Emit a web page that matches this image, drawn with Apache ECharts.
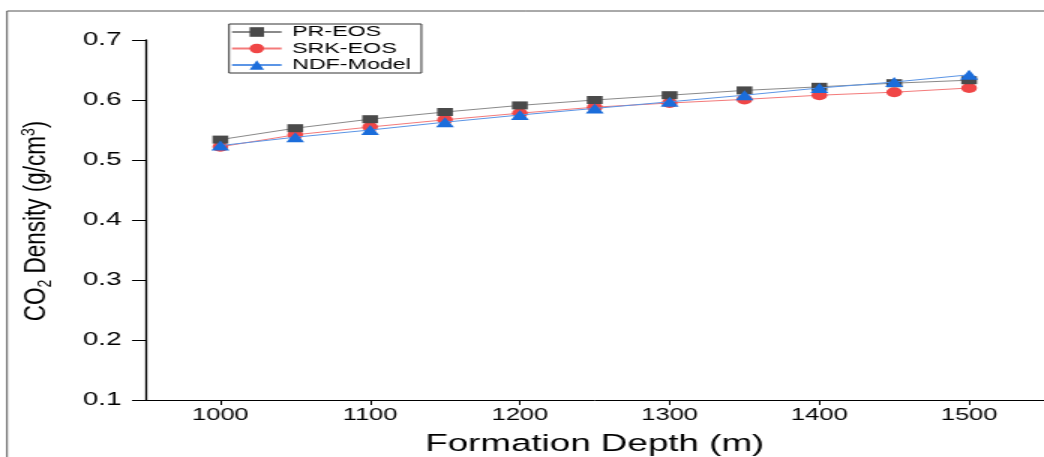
<!DOCTYPE html>
<html>
<head>
<meta charset="utf-8">
<script src="https://cdn.jsdelivr.net/npm/echarts@6/dist/echarts.min.js"></script>
<style>
html,body{margin:0;padding:0;background:#fff;overflow:hidden;}
#wrap{width:1044px;height:457px;overflow:hidden;}
#chart{width:696px;height:457px;transform:scaleX(1.5);transform-origin:0 0;}
</style>
</head>
<body>
<div id="wrap"><div id="chart"></div></div>
<script>
// Data
const depths = [1000, 1050, 1100, 1150, 1200, 1250, 1300, 1350, 1400, 1450, 1500];
const prEOS  = [0.534, 0.553, 0.568, 0.580, 0.591, 0.600, 0.608, 0.616, 0.622, 0.628, 0.633];
const srkEOS = [0.522, 0.542, 0.555, 0.567, 0.578, 0.588, 0.595, 0.601, 0.608, 0.613, 0.620];
const ndfModel = [0.524, 0.538, 0.550, 0.563, 0.575, 0.586, 0.597, 0.608, 0.620, 0.630, 0.642];
const seriesNames = ['PR-EOS', 'SRK-EOS', 'NDF-Model'];
const xTicks = [1000, 1100, 1200, 1300, 1400, 1500];
const yTicks = [0.1, 0.2, 0.3, 0.4, 0.5, 0.6, 0.7];

const K = 1.5; // horizontal stretch of the reference
const FONT = 'Liberation Sans, Arial, sans-serif';
const chart = echarts.init(document.getElementById('chart'), null, {renderer: 'canvas'});
const pair = (ys) => depths.map((d, i) => [d, ys[i]]);

chart.setOption({
  animation: false,
  backgroundColor: '#fff',
  grid: {left: 97, right: 0, top: 40, bottom: 57, containLabel: false, outerBoundsMode: 'none'},
  legend: {
    orient: 'vertical', left: 152.7, top: 24,
    data: seriesNames,
    itemWidth: 33, itemHeight: 12, itemGap: 0.5,
    padding: [0, 7, 0, 1],
    borderColor: '#333', borderWidth: 1,
    textStyle: {fontFamily: FONT, fontSize: 15.5, color: '#000', lineHeight: 14.5, padding: [0, 0, 0, 2]}
  },
  xAxis: {
    type: 'value', min: 950, max: 1550, interval: 50,
    name: 'Formation Depth (m)', nameLocation: 'middle', nameGap: 32,
    nameTextStyle: {fontFamily: FONT, fontSize: 24.5, color: '#000'},
    axisLine: {show: true, onZero: false, lineStyle: {color: '#000', width: 1}},
    axisTick: {show: true, length: 5, lineStyle: {color: '#000', width: 1},
      customValues: xTicks},
    axisLabel: {fontFamily: FONT, fontSize: 17, color: '#000', margin: 7,
      customValues: xTicks, formatter: v => String(v)},
    splitLine: {show: false}
  },
  yAxis: {
    type: 'value', min: 0.1, max: 0.7, interval: 0.1,
    axisLine: {show: true, lineStyle: {color: '#000', width: 1.3}},
    axisTick: {show: true, length: 9, lineStyle: {color: '#000', width: 1}},
    axisLabel: {fontFamily: FONT, fontSize: 18.5, color: '#000', margin: 16,
      formatter: v => v.toFixed(1)},
    splitLine: {show: false}
  },
  graphic: [
    {type: 'line', shape: {x1: 4.7, y1: 11, x2: 700, y2: 11}, style: {stroke: '#555', lineWidth: 1}, silent: true},
    {type: 'line', shape: {x1: 4.7, y1: 11, x2: 4.7, y2: 460}, style: {stroke: '#555', lineWidth: 1}, silent: true},
    {type: 'text', x: 24.7, y: 221, rotation: Math.PI / 2, scaleY: 0.9, silent: true,
      style: {
        text: '{a|CO}{s|2}{a| Density (g/cm}{p|3}{a|)}',
        align: 'center', verticalAlign: 'middle',
        rich: {
          a: {fontFamily: FONT, fontSize: 22.5, lineHeight: 26, fill: '#000'},
          s: {fontFamily: FONT, fontSize: 14, lineHeight: 8, verticalAlign: 'bottom', fill: '#000'},
          p: {fontFamily: FONT, fontSize: 14, lineHeight: 8, verticalAlign: 'top', fill: '#000'}
        }
      }}
  ],
  series: [
    {name: seriesNames[0], type: 'line', data: pair(prEOS), symbol: 'rect', symbolSize: [10.5, 8],
      itemStyle: {color: '#4a4a4a'}, lineStyle: {color: '#8a8a8a', width: 1}, z: 2},
    {name: seriesNames[1], type: 'line', data: pair(srkEOS), symbol: 'circle', symbolSize: [10.5, 10],
      itemStyle: {color: '#f04646'}, lineStyle: {color: '#f47a7a', width: 1}, z: 1},
    {name: seriesNames[2], type: 'line', data: pair(ndfModel), symbol: 'triangle', symbolSize: [12, 10],
      itemStyle: {color: '#1b6ddb'}, lineStyle: {color: '#5b95e6', width: 1}, z: 3}
  ]
});
</script>
</body>
</html>
